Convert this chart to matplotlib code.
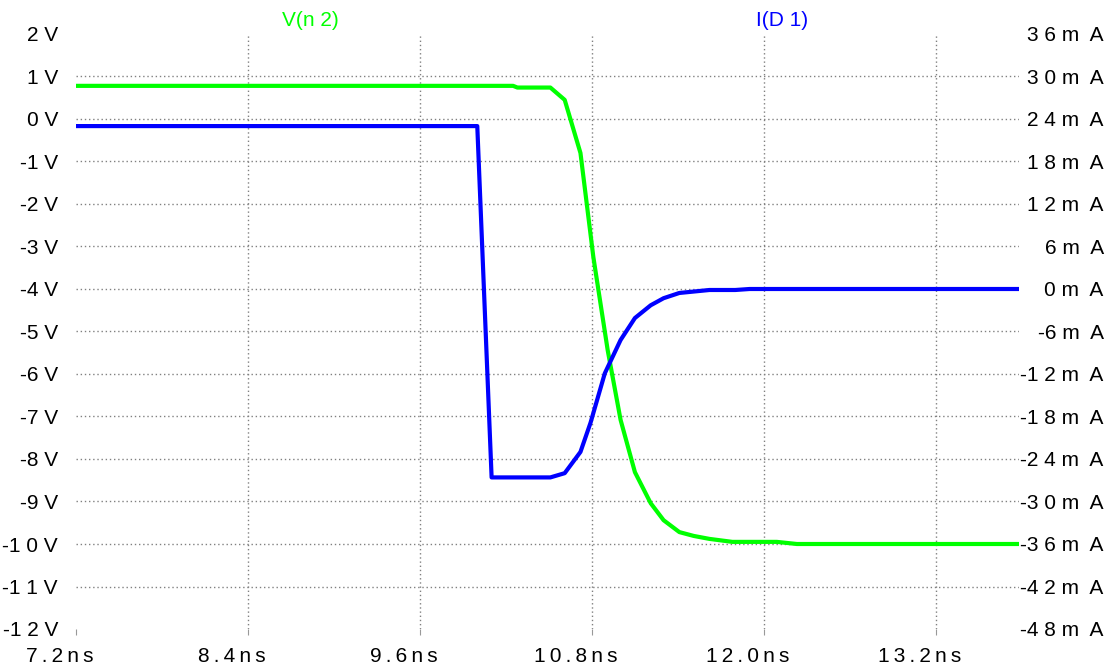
import matplotlib.pyplot as plt
import matplotlib.transforms as mtransforms

plt.rcParams['font.family'] = ['Liberation Sans', 'DejaVu Sans']

# V(n2) trace, time in ns, volts
t_v = [7.2, 10.25, 10.28, 10.51, 10.61, 10.72, 10.81, 10.91, 11.0, 11.1,
       11.21, 11.3, 11.41, 11.51, 11.62, 11.78, 12.09, 12.23, 13.78]
v_n2 = [0.78, 0.78, 0.74, 0.74, 0.45, -0.8, -3.25, -5.44, -7.08, -8.31,
        -9.04, -9.44, -9.72, -9.81, -9.88, -9.95, -9.95, -10.0, -10.0]

# I(D1) trace, time in ns, mA
t_i = [7.2, 10.0, 10.1, 10.51, 10.61, 10.72, 10.79, 10.89, 11.0, 11.1,
       11.21, 11.3, 11.41, 11.62, 11.8, 11.9, 13.78]
i_d1 = [23.0, 23.0, -26.6, -26.6, -26.0, -23.0, -18.9, -11.9, -7.2, -4.1,
        -2.3, -1.3, -0.56, -0.14, -0.14, 0.0, 0.0]

x_ticks = [7.2, 8.4, 9.6, 10.8, 12.0, 13.2]
x_labels = ["7.2ns", "8.4ns", "9.6ns", "10.8ns", "12.0ns", "13.2ns"]
v_ticks = list(range(2, -13, -1))
i_ticks = list(range(36, -49, -6))

TS = "\u2009"  # thin space, LTspice-like letter tracking


def track(s):
    return TS.join(s)


def spaced(n):
    s = " ".join(str(abs(n)))
    return ("-" if n < 0 else "") + s


fig = plt.figure(figsize=(11.17, 6.68), dpi=100)
ax = fig.add_axes([76 / 1117, 1 - 629 / 668, (1019 - 76) / 1117, (629 - 34) / 668])
ax2 = ax.twinx()

ax.plot(t_v, v_n2, color='#00ff00', lw=3, zorder=3)
ax2.plot(t_i, i_d1, color='#0000ff', lw=3, zorder=3)

ax.set_xlim(7.2, 13.78)
ax.set_ylim(-12, 2)
ax2.set_ylim(-48, 36)

for a in (ax, ax2):
    for s in a.spines.values():
        s.set_visible(False)

ax.set_yticks(v_ticks)
ax.set_yticklabels([spaced(v) + " V" for v in v_ticks])
ax.tick_params(axis='y', length=0, pad=13, labelsize=15)
ax2.set_yticks(i_ticks)
ax2.set_yticklabels([spaced(i) + " m  A" for i in i_ticks], ha='right')
ax2.tick_params(axis='y', length=0, pad=61, labelsize=15)

ax.set_xticks(x_ticks)
ax.set_xticklabels([track(s) for s in x_labels])
ax.tick_params(axis='x', length=4, color='#999999', pad=9, labelsize=15)
shift = mtransforms.ScaledTranslation(-16 / 100, 0, fig.dpi_scale_trans)
for lab in ax.get_xticklabels():
    lab.set_transform(lab.get_transform() + shift)

ax.grid(True, color='#808080', lw=1, linestyle=(0, (1, 2)))
ax.yaxis.get_gridlines()[0].set_visible(False)
ax.yaxis.get_gridlines()[-1].set_visible(False)
ax.xaxis.get_gridlines()[0].set_visible(False)

fig.text(310 / 1117, 1 - 20 / 668, "V(n 2)", color='#00ff00', fontsize=15, ha='center', va='center')
fig.text(782 / 1117, 1 - 20 / 668, "I(D 1)", color='#0000ff', fontsize=15, ha='center', va='center')

fig.savefig("out.png", dpi=100)
